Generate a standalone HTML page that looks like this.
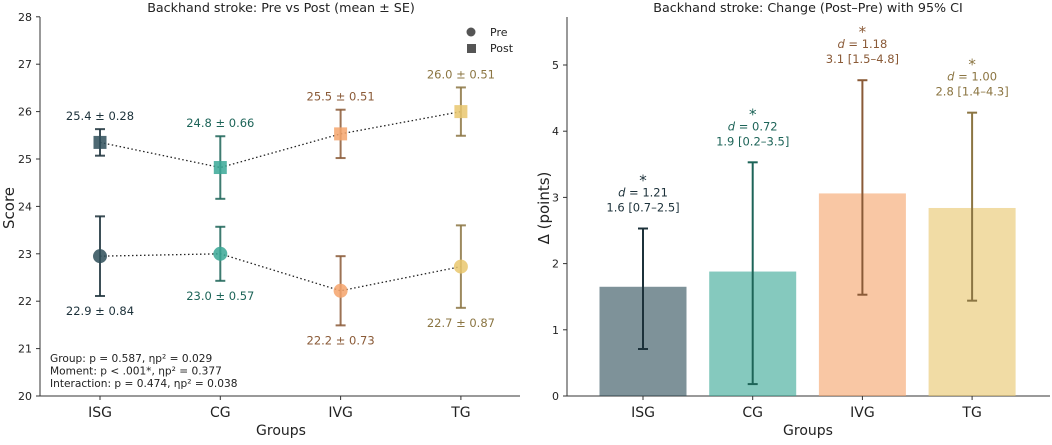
<!DOCTYPE html>
<html><head><meta charset="utf-8"><style>
body{margin:0;background:#fff}
svg{font-family:"DejaVu Sans","Liberation Sans",sans-serif}
</style></head><body>
<svg id="c" width="1052" height="440" viewBox="0 0 1052 440" xmlns="http://www.w3.org/2000/svg"></svg>
<script>
const groups=["ISG","CG","IVG","TG"];
const preMean=[22.95,23.0,22.22,22.73];
const preSE=[0.84,0.57,0.73,0.87];
const postMean=[25.35,24.82,25.53,26.0];
const postSE=[0.28,0.66,0.51,0.51];
const preLabels=["22.9 ± 0.84","23.0 ± 0.57","22.2 ± 0.73","22.7 ± 0.87"];
const postLabels=["25.4 ± 0.28","24.8 ± 0.66","25.5 ± 0.51","26.0 ± 0.51"];
const delta=[1.65,1.88,3.06,2.84];
const ciLo=[0.71,0.18,1.53,1.44];
const ciHi=[2.53,3.53,4.77,4.28];
const dVals=["1.21","0.72","1.18","1.00"];
const ciLabels=["1.6 [0.7–2.5]","1.9 [0.2–3.5]","3.1 [1.5–4.8]","2.8 [1.4–4.3]"];
const leftTicks=[20,21,22,23,24,25,26,27,28];
const rightTicks=[0,1,2,3,4,5];

const fill=["#2f4f5a","#3aa896","#f5a46c","#e9c76e"];
const dark=["#1c313a","#1d6458","#8a5a37","#8b7542"];
const svg=document.getElementById('c');
const NS="http://www.w3.org/2000/svg";
function mk(t,a,txt){const e=document.createElementNS(NS,t);for(const k in a)e.setAttribute(k,a[k]);if(txt!==undefined)e.textContent=txt;svg.appendChild(e);return e;}

// Left axes
const lx=i=>100+i*120.3;
const ly=v=>396-(v-20)*47.4;
mk('line',{x1:40,y1:17,x2:40,y2:396,stroke:'#333','stroke-width':1});
mk('line',{x1:40,y1:396,x2:520,y2:396,stroke:'#333','stroke-width':1});
leftTicks.forEach(t=>{mk('line',{x1:36,x2:40,y1:ly(t),y2:ly(t),stroke:'#333'});
 const e=mk('text',{x:32,y:ly(t)+4,'text-anchor':'end','font-size':11,fill:'#222'},t);
 });
groups.forEach((g,i)=>{mk('line',{x1:lx(i),x2:lx(i),y1:396,y2:400,stroke:'#333'});
 const e=mk('text',{x:lx(i),y:417,'text-anchor':'middle','font-size':14,fill:'#222'},g);
 });
let e=mk('text',{x:281,y:12,'text-anchor':'middle','font-size':12.7,fill:'#222'},'Backhand stroke: Pre vs Post (mean ± SE)');

e=mk('text',{x:281,y:435,'text-anchor':'middle','font-size':14,fill:'#222'},'Groups');

e=mk('text',{x:0,y:0,'text-anchor':'middle','font-size':15,fill:'#222',transform:'translate(14,208) rotate(-90)'},'Score');

// lines
mk('polyline',{points:preMean.map((v,i)=>lx(i)+','+ly(v)).join(' '),fill:'none',stroke:'#222','stroke-width':1.3,'stroke-dasharray':'1.5 2.5'});
mk('polyline',{points:postMean.map((v,i)=>lx(i)+','+ly(v)).join(' '),fill:'none',stroke:'#222','stroke-width':1.3,'stroke-dasharray':'1.5 2.5'});
groups.forEach((g,i)=>{
 [[preMean,preSE],[postMean,postSE]].forEach(([m,s],k)=>{
  const x=lx(i),y1=ly(m[i]-s[i]),y2=ly(m[i]+s[i]);
  mk('line',{x1:x,x2:x,y1,y2,stroke:dark[i],'stroke-width':2,opacity:0.85});
  mk('line',{x1:x-5,x2:x+5,y1,y2:y1,stroke:dark[i],'stroke-width':2,opacity:0.85});
  mk('line',{x1:x-5,x2:x+5,y1:y2,y2,stroke:dark[i],'stroke-width':2,opacity:0.85});
 });
 let p=mk('circle',{cx:lx(i),cy:ly(preMean[i]),r:6.5,fill:fill[i],opacity:0.85,stroke:fill[i]});
 
 p=mk('rect',{x:lx(i)-6.5,y:ly(postMean[i])-6.5,width:13,height:13,fill:fill[i],opacity:0.85});
 
 let t=mk('text',{x:lx(i),y:ly(preMean[i]-preSE[i])+19,'text-anchor':'middle','font-size':11.5,fill:dark[i]},preLabels[i]);
 
 t=mk('text',{x:lx(i),y:ly(postMean[i]+postSE[i])-9,'text-anchor':'middle','font-size':11.5,fill:dark[i]},postLabels[i]);
 
});
// legend
mk('circle',{cx:471,cy:32,r:4.5,fill:'#555'});
mk('rect',{x:467,y:44,width:9,height:9,fill:'#555'});
e=mk('text',{x:490,y:36,'font-size':11,fill:'#222'},'Pre');
e=mk('text',{x:490,y:52,'font-size':11,fill:'#222'},'Post');
["Group: p = 0.587, ηp² = 0.029","Moment: p < .001*, ηp² = 0.377","Interaction: p = 0.474, ηp² = 0.038"].forEach((s,k)=>{
 const t=mk('text',{x:50,y:362+k*12.5,'font-size':10.6,fill:'#222'},s);});

// Right axes
const rx=i=>643+i*109.7;
const ry=v=>396-v*66.2;
const bw=87;
mk('line',{x1:567,y1:17,x2:567,y2:396,stroke:'#333'});
mk('line',{x1:567,y1:396,x2:1050,y2:396,stroke:'#333'});
rightTicks.forEach(t=>{mk('line',{x1:563,x2:567,y1:ry(t),y2:ry(t),stroke:'#333'});
 const e=mk('text',{x:559,y:ry(t)+4,'text-anchor':'end','font-size':11,fill:'#222'},t);
 });
groups.forEach((g,i)=>{mk('line',{x1:rx(i),x2:rx(i),y1:396,y2:400,stroke:'#333'});
 const e=mk('text',{x:rx(i),y:417,'text-anchor':'middle','font-size':14,fill:'#222'},g);
 });
e=mk('text',{x:808,y:12,'text-anchor':'middle','font-size':12.7,fill:'#222'},'Backhand stroke: Change (Post–Pre) with 95% CI');

e=mk('text',{x:808,y:435,'text-anchor':'middle','font-size':14,fill:'#222'},'Groups');

e=mk('text',{x:0,y:0,'text-anchor':'middle','font-size':15,fill:'#222',transform:'translate(549,208) rotate(-90)'},'Δ (points)');

groups.forEach((g,i)=>{
 const b=mk('rect',{x:rx(i)-bw/2,y:ry(delta[i]),width:bw,height:ry(0)-ry(delta[i]),fill:fill[i],opacity:0.62});
 
 const x=rx(i),y1=ry(ciLo[i]),y2=ry(ciHi[i]);
 mk('line',{x1:x,x2:x,y1,y2,stroke:dark[i],'stroke-width':2});
 mk('line',{x1:x-5,x2:x+5,y1,y2:y1,stroke:dark[i],'stroke-width':2});
 mk('line',{x1:x-5,x2:x+5,y1:y2,y2,stroke:dark[i],'stroke-width':2});
 let t=mk('text',{x,y:y2-17,'text-anchor':'middle','font-size':11.5,fill:dark[i]},ciLabels[i]);
 
 t=mk('text',{x,y:y2-32,'text-anchor':'middle','font-size':11.5,fill:dark[i]});
 t.innerHTML='<tspan font-style="italic">d</tspan> = '+dVals[i];
 
 t=mk('text',{x,y:y2-43,'text-anchor':'middle','font-size':15,fill:dark[i]},'*');
 
});
</script>
</body></html>
